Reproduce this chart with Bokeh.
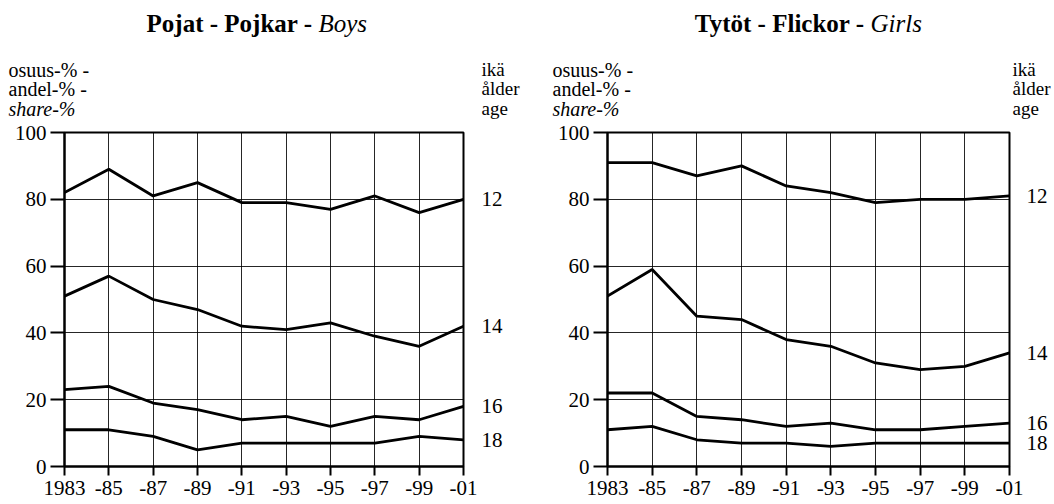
from bokeh.plotting import figure
from bokeh.layouts import row, column
from bokeh.models import Range1d, FixedTicker, LinearAxis
from bokeh.core.properties import value
from bokeh.embed import file_html
from bokeh.resources import INLINE

# ---- data ----
years = [1983, 1985, 1987, 1989, 1991, 1993, 1995, 1997, 1999, 2001]
year_labels = ["1983", "-85", "-87", "-89", "-91", "-93", "-95", "-97", "-99", "-01"]
y_ticks = [0, 20, 40, 60, 80, 100]
ages = ["12", "14", "16", "18"]

boys_12 = [82, 89, 81, 85, 79, 79, 77, 81, 76, 80]
boys_14 = [51, 57, 50, 47, 42, 41, 43, 39, 36, 42]
boys_16 = [23, 24, 19, 17, 14, 15, 12, 15, 14, 18]
boys_18 = [11, 11, 9, 5, 7, 7, 7, 7, 9, 8]

girls_12 = [91, 91, 87, 90, 84, 82, 79, 80, 80, 81]
girls_14 = [51, 59, 45, 44, 38, 36, 31, 29, 30, 34]
girls_16 = [22, 22, 15, 14, 12, 13, 11, 11, 12, 13]
girls_18 = [11, 12, 8, 7, 7, 6, 7, 7, 7, 7]

left_caption = ["osuus-% -", "andel-% -", "share-%"]
left_caption_style = ["normal", "normal", "italic"]
right_caption = ["ikä", "ålder", "age"]

FONT = "Liberation Serif"
HEAD_H = 121
MAIN_H = 383
TOP = 11
BOTTOM = 38


def header(width, title_bold, title_italic, title_x, left_x, right_x):
    h = figure(width=width, height=HEAD_H, x_range=Range1d(0, width),
               y_range=Range1d(0, HEAD_H), x_axis_type=None, y_axis_type=None,
               output_backend="svg", toolbar_location=None, min_border=0,
               outline_line_color=None, background_fill_color="white",
               border_fill_color="white")
    h.title.visible = False
    h.xgrid.visible = False
    h.ygrid.visible = False
    ty = HEAD_H - 23
    h.text(x=[title_x], y=[ty], text=[title_bold], text_align="right",
           text_baseline="alphabetic", text_font=value(FONT),
           text_font_style="bold", text_font_size="25px", text_color="black")
    h.text(x=[title_x + 6], y=[ty], text=[title_italic], text_align="left",
           text_baseline="alphabetic", text_font=value(FONT),
           text_font_style="italic", text_font_size="25px", text_color="black")
    base = [69, 88, 108]
    for txt, st, b in zip(left_caption, left_caption_style, base):
        h.text(x=[left_x], y=[HEAD_H - b], text=[txt], text_align="left",
               text_baseline="alphabetic", text_font=value(FONT),
               text_font_style=st, text_font_size="20px", text_color="black")
    for txt, b in zip(right_caption, base):
        h.text(x=[right_x], y=[HEAD_H - b], text=[txt], text_align="left",
               text_baseline="alphabetic", text_font=value(FONT),
               text_font_size="19px", text_color="black")
    return h


def panel(width, left, right, series, age_off):
    p = figure(width=width, height=MAIN_H, x_range=Range1d(1983, 2001),
               y_range=Range1d(0, 100), output_backend="svg", toolbar_location=None,
               min_border_left=left, min_border_right=right,
               min_border_top=TOP, min_border_bottom=BOTTOM,
               outline_line_color="black", outline_line_width=2,
               background_fill_color="white", border_fill_color="white")
    p.title.visible = False

    p.xgrid.ticker = FixedTicker(ticks=years)
    p.ygrid.ticker = FixedTicker(ticks=y_ticks)
    for g in (p.xgrid, p.ygrid):
        g.grid_line_color = "black"
        g.grid_line_width = 1
        g.grid_line_alpha = 0.85

    ax = p.xaxis[0]
    ax.ticker = FixedTicker(ticks=years)
    ax.major_label_overrides = {y: l for y, l in zip(years, year_labels)}
    ay = p.yaxis[0]
    ay.ticker = FixedTicker(ticks=y_ticks)
    for a in (ax, ay):
        a.axis_line_color = "black"
        a.axis_line_width = 2
        a.major_tick_line_color = "black"
        a.major_tick_line_width = 2
        a.major_tick_in = 0
        a.minor_tick_line_color = None
        a.major_label_text_font = FONT
        a.major_label_text_font_size = "21px"
        a.major_label_text_color = "black"
    ax.major_tick_out = 9
    ax.major_label_standoff = 5
    ay.major_tick_out = 14
    ay.major_label_standoff = 4

    for vals in series:
        p.line(years, vals, line_color="black", line_width=2.8)

    # age labels: a right-hand axis with ticks at each series' last value
    last = [s[-1] for s in series]
    ra = LinearAxis(ticker=FixedTicker(ticks=last),
                    major_label_overrides={v: a for v, a in zip(last, ages)},
                    axis_line_color=None, major_tick_line_color=None,
                    minor_tick_line_color=None, major_tick_in=0, major_tick_out=0,
                    major_label_standoff=age_off, major_label_text_font=FONT,
                    major_label_text_font_size="21px", major_label_text_color="black")
    p.add_layout(ra, "right")
    return p


h1 = header(527, "Pojat - Pojkar -", "Boys", 312, 8, 481)
h2 = header(524, "Tytöt - Flickor -", "Girls", 337, 25, 485)
p1 = panel(527, 64, 64, [boys_12, boys_14, boys_16, boys_18], 18)
p2 = panel(524, 80, 42, [girls_12, girls_14, girls_16, girls_18], 17)

layout = column(row(h1, h2), row(p1, p2))
open("out.html", "w").write(file_html(layout, INLINE))
